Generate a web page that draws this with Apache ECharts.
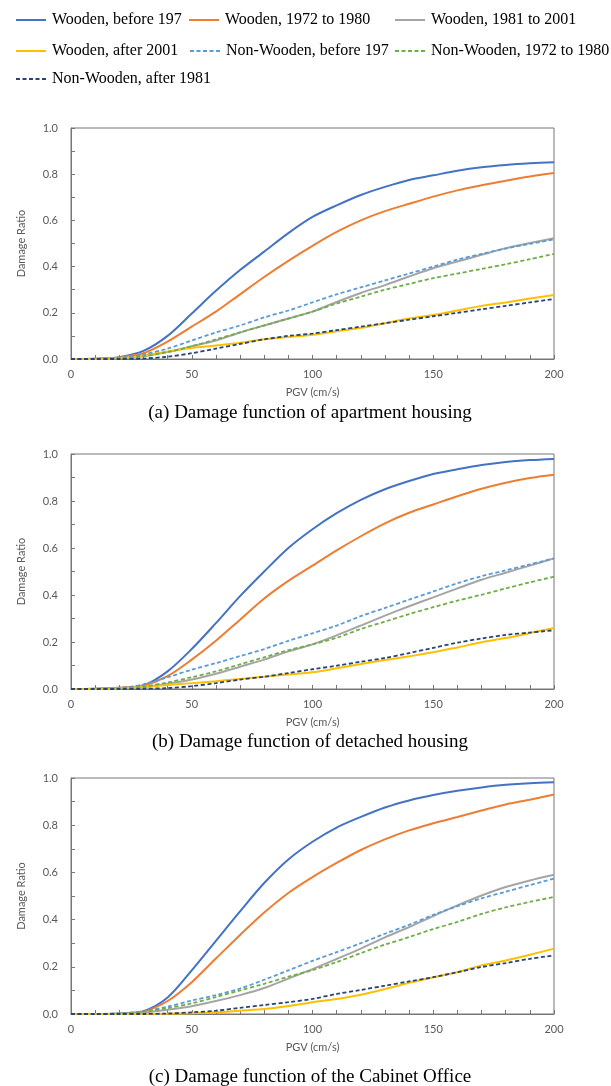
<!DOCTYPE html>
<html>
<head>
<meta charset="utf-8">
<script src="https://cdn.jsdelivr.net/npm/echarts@6/dist/echarts.min.js"></script>
<style>
html,body{margin:0;padding:0;background:#fff;}
#c{width:611px;height:1086px;}
</style>
</head>
<body>
<div id="c"></div>
<script>
// PGV (cm/s) sample points
const pgv = [0,10,20,30,40,50,60,70,80,90,100,110,120,130,140,150,160,170,180,190,200];

const seriesNames = [
  'Wooden, before 197',
  'Wooden, 1972 to 1980',
  'Wooden, 1981 to 2001',
  'Wooden, after 2001',
  'Non-Wooden, before 197',
  'Non-Wooden, 1972 to 1980',
  'Non-Wooden, after 1981'
];

const captions = [
  '(a) Damage function of apartment housing',
  '(b) Damage function of detached housing',
  '(c) Damage function of the Cabinet Office'
];

const xTickLabels = ['0','50','100','150','200'];
const yTickLabels = ['0.0','0.2','0.4','0.6','0.8','1.0'];

// (a) apartment housing
const aWoodBefore1971 = [0,0.001,0.008,0.035,0.10,0.197,0.295,0.385,0.465,0.545,0.615,0.665,0.71,0.745,0.775,0.795,0.815,0.83,0.84,0.847,0.852];
const aWood1972to1980 = [0,0.001,0.007,0.025,0.075,0.14,0.205,0.28,0.355,0.425,0.49,0.55,0.6,0.64,0.672,0.703,0.73,0.752,0.772,0.79,0.805];
const aWood1981to2001 = [0,0,0.003,0.012,0.03,0.055,0.08,0.115,0.145,0.175,0.205,0.247,0.286,0.32,0.357,0.393,0.422,0.451,0.48,0.502,0.523];
const aWoodAfter2001  = [0,0,0.003,0.015,0.033,0.048,0.058,0.07,0.085,0.095,0.105,0.12,0.135,0.155,0.175,0.19,0.21,0.23,0.245,0.262,0.277];
const aNonBefore1971  = [0,0.001,0.005,0.02,0.045,0.08,0.115,0.145,0.18,0.21,0.245,0.28,0.31,0.34,0.37,0.40,0.43,0.455,0.478,0.498,0.518];
const aNon1972to1980  = [0,0,0.003,0.012,0.03,0.055,0.085,0.115,0.145,0.175,0.205,0.24,0.27,0.30,0.325,0.35,0.37,0.39,0.41,0.432,0.455];
const aNonAfter1981   = [0,0,0,0.002,0.01,0.025,0.045,0.065,0.085,0.1,0.11,0.125,0.14,0.155,0.17,0.185,0.2,0.215,0.23,0.245,0.26];

// (b) detached housing
const bWoodBefore1971 = [0,0.001,0.005,0.015,0.075,0.17,0.28,0.395,0.5,0.6,0.68,0.748,0.805,0.85,0.885,0.915,0.935,0.953,0.966,0.974,0.979];
const bWood1972to1980 = [0,0.001,0.005,0.015,0.055,0.125,0.205,0.295,0.385,0.46,0.525,0.59,0.65,0.705,0.75,0.785,0.82,0.852,0.878,0.898,0.912];
const bWood1981to2001 = [0,0,0.002,0.008,0.022,0.04,0.065,0.095,0.125,0.16,0.19,0.228,0.27,0.312,0.352,0.39,0.428,0.465,0.495,0.525,0.556];
const bWoodAfter2001  = [0,0,0.003,0.008,0.017,0.025,0.033,0.043,0.052,0.062,0.071,0.088,0.106,0.123,0.139,0.156,0.177,0.199,0.217,0.238,0.26];
const bNonBefore1971  = [0,0,0.003,0.02,0.05,0.082,0.11,0.14,0.17,0.205,0.237,0.27,0.31,0.345,0.38,0.415,0.45,0.48,0.505,0.53,0.556];
const bNon1972to1980  = [0,0,0.002,0.01,0.028,0.05,0.075,0.105,0.135,0.165,0.19,0.218,0.255,0.287,0.319,0.348,0.376,0.401,0.428,0.454,0.478];
const bNonAfter1981   = [0,0,0,0.001,0.004,0.012,0.025,0.04,0.052,0.068,0.084,0.099,0.116,0.132,0.153,0.175,0.197,0.215,0.23,0.24,0.25];

// (c) Cabinet Office
const cWoodBefore1971 = [0,0,0.002,0.012,0.07,0.185,0.31,0.435,0.555,0.655,0.73,0.79,0.835,0.875,0.905,0.928,0.946,0.96,0.971,0.978,0.982];
const cWood1972to1980 = [0,0,0.001,0.01,0.055,0.135,0.235,0.335,0.43,0.513,0.58,0.64,0.695,0.74,0.778,0.808,0.835,0.862,0.888,0.908,0.93];
const cWood1981to2001 = [0,0,0.001,0.006,0.018,0.033,0.055,0.08,0.11,0.15,0.19,0.233,0.277,0.325,0.368,0.415,0.46,0.502,0.538,0.566,0.59];
const cWoodAfter2001  = [0,0,0,0,0.001,0.003,0.007,0.014,0.021,0.034,0.05,0.064,0.082,0.106,0.132,0.156,0.177,0.206,0.227,0.251,0.277];
const cNonBefore1971  = [0,0,0.002,0.012,0.031,0.057,0.08,0.108,0.145,0.185,0.225,0.262,0.3,0.34,0.378,0.42,0.457,0.49,0.518,0.546,0.574];
const cNon1972to1980  = [0,0,0.002,0.01,0.025,0.045,0.072,0.1,0.128,0.158,0.186,0.22,0.258,0.294,0.326,0.36,0.39,0.424,0.452,0.475,0.496];
const cNonAfter1981   = [0,0,0,0,0.002,0.007,0.014,0.026,0.038,0.05,0.064,0.085,0.102,0.12,0.138,0.156,0.177,0.199,0.216,0.234,0.248];

const panels = [
  [aWoodBefore1971,aWood1972to1980,aWood1981to2001,aWoodAfter2001,aNonBefore1971,aNon1972to1980,aNonAfter1981],
  [bWoodBefore1971,bWood1972to1980,bWood1981to2001,bWoodAfter2001,bNonBefore1971,bNon1972to1980,bNonAfter1981],
  [cWoodBefore1971,cWood1972to1980,cWood1981to2001,cWoodAfter2001,cNonBefore1971,cNon1972to1980,cNonAfter1981]
];

const colors = ['#4472C4','#ED7D31','#A5A5A5','#FFC000','#5B9BD5','#70AD47','#264478'];
const dashed = [false,false,false,false,true,true,true];

const gridBoxes = [
  {top:128, height:231},
  {top:454, height:235},
  {top:778, height:236}
];
const captionY = [413, 742, 1077];

const axisColor = '#767676';
const labelColor = '#595959';
const sansFont = 'Lato';
const serifFont = 'Liberation Serif';

const chart = echarts.init(document.getElementById('c'), null, {renderer:'canvas'});

const grids = [], xAxes = [], yAxes = [], series = [];
gridBoxes.forEach((g, gi) => {
  grids.push({left:71, width:483, top:g.top, height:g.height, show:true, borderColor:axisColor, borderWidth:1, containLabel:false});
  xAxes.push({
    type:'value', gridIndex:gi, min:0, max:200, interval:50,
    axisLine:{show:true, onZero:false, lineStyle:{color:axisColor, width:1}},
    axisTick:{show:true, inside:true, length:4, lineStyle:{color:axisColor}},
    minorTick:{show:true, splitNumber:5, length:4, lineStyle:{color:axisColor}},
    splitLine:{show:false},
    axisLabel:{color:labelColor, fontFamily:sansFont, fontSize:11, margin:10,
      formatter:(v)=>{const i = Math.round(v/50); return xTickLabels[i] !== undefined ? xTickLabels[i] : '';}},
    name:'PGV (cm/s)', nameLocation:'middle', nameGap:28,
    nameTextStyle:{color:labelColor, fontFamily:sansFont, fontSize:11}
  });
  yAxes.push({
    type:'value', gridIndex:gi, min:0, max:1, interval:0.2,
    axisLine:{show:true, lineStyle:{color:axisColor, width:1}},
    axisTick:{show:true, inside:true, length:4, lineStyle:{color:axisColor}},
    minorTick:{show:true, splitNumber:2, length:4, lineStyle:{color:axisColor}},
    splitLine:{show:false},
    axisLabel:{color:labelColor, fontFamily:sansFont, fontSize:11, margin:13,
      formatter:(v)=>{const i = Math.round(v/0.2); return yTickLabels[i] !== undefined ? yTickLabels[i] : '';}},
    name:'Damage Ratio', nameLocation:'middle', nameGap:44, nameRotate:90,
    nameTextStyle:{color:labelColor, fontFamily:sansFont, fontSize:11}
  });
  panels[gi].forEach((arr, si) => {
    series.push({
      name:seriesNames[si], type:'line', xAxisIndex:gi, yAxisIndex:gi,
      data:pgv.map((x,i)=>[x, arr[i]]),
      smooth:0.3, symbol:'none', showSymbol:false,
      lineStyle:{color:colors[si], width:dashed[si]?1.8:2, type:dashed[si]?[4,2.5]:'solid'},
      itemStyle:{color:colors[si]},
      emphasis:{disabled:true}, z:2+si
    });
  });
});

const legendPos = [
  {left:15, top:12},{left:188, top:12},{left:394, top:12},
  {left:15, top:43},{left:189, top:43},{left:394, top:43},
  {left:15, top:71}
];
const legends = seriesNames.map((n,i)=>({
  data:[n], left:legendPos[i].left, top:legendPos[i].top, padding:0,
  itemWidth:30, itemHeight:14, itemGap:0, selectedMode:false,
  itemStyle:{opacity:0},
  textStyle:{fontFamily:serifFont, fontSize:16, color:'#000', padding:[0,0,0,1]}
}));

const graphics = captions.map((t,i)=>({
  type:'text', x:310, y:captionY[i],
  style:{text:t, font:'19px "Liberation Serif"', fill:'#000', textAlign:'center', textVerticalAlign:'middle'}
}));

chart.setOption({
  animation:false,
  backgroundColor:'#fff',
  grid:grids, xAxis:xAxes, yAxis:yAxes, series:series,
  legend:legends,
  graphic:graphics
});
</script>
</body>
</html>
